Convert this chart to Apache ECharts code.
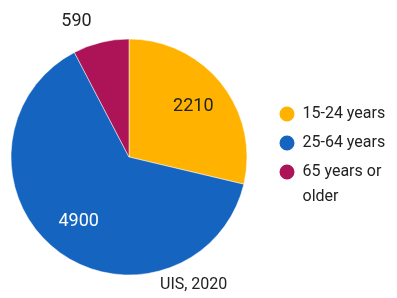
<!DOCTYPE html>
<html>
<head>
    <meta charset="utf-8">
    <title>ECharts</title>
    <script src="https://cdn.jsdelivr.net/npm/echarts@6/dist/echarts.min.js"></script>
    <style>
        html, body { margin: 0; padding: 0; background: #fff; }
        #main { width: 397px; height: 298px; }
    </style>
</head>
<body>
    <div id="main"></div>
    <script type="text/javascript">
        // data
        var categories = ['15-24 years', '25-64 years', '65 years or older'];
        var values = [2210, 4900, 590];
        var colors = ['#FFB300', '#1565C0', '#AD1457'];
        var labelColors = ['#222', '#fff', '#222'];
        var source = 'UIS, 2020';

        var font = 'Roboto, "Noto Sans", sans-serif';
        var center = [129, 157];

        var pieData = categories.map(function (name, i) {
            return { name: name, value: values[i], itemStyle: { color: colors[i] } };
        });

        // transparent overlay only carries the labels (further out than 'inside' puts them)
        var labelData = categories.map(function (name, i) {
            var item = {
                name: name,
                value: values[i],
                itemStyle: { color: 'rgba(0,0,0,0)' },
                label: { color: labelColors[i] }
            };
            if (values[i] < 1000) {
                item.label.position = 'outside';
            }
            return item;
        });

        // every legend text box is 3 lines tall so the wrapped one keeps its icon on line 1
        var legendData = categories.map(function (name, i) {
            if (i == 2) {
                return { name: name, textStyle: { padding: [0, 0, 0, 2] } };
            }
            return { name: name, textStyle: { padding: [25, 0, 25, 2] } };
        });

        var myChart = echarts.init(document.getElementById('main'));
        var option = {
            animation: false,
            title: {
                text: source,
                left: 160,
                top: 277,
                padding: 0,
                textStyle: { fontFamily: font, fontSize: 16, fontWeight: 'normal', color: '#222' }
            },
            legend: {
                orient: 'vertical',
                left: 277.5,
                top: 76.5,
                padding: 0,
                itemGap: -46,
                itemWidth: 17,
                itemHeight: 17,
                icon: 'circle',
                data: legendData,
                formatter: function (name) {
                    return name == '65 years or older' ? '\n65 years or\nolder' : name;
                },
                textStyle: { fontFamily: font, fontSize: 16, color: '#222', lineHeight: 25 }
            },
            series: [
                {
                    name: 'pop',
                    type: 'pie',
                    radius: [0, 118],
                    center: center,
                    startAngle: 90,
                    clockwise: true,
                    silent: true,
                    label: { show: false },
                    labelLine: { show: false },
                    itemStyle: { borderColor: '#fff', borderWidth: 0.5 },
                    data: pieData
                },
                {
                    name: 'labels',
                    type: 'pie',
                    radius: [40, 118],
                    center: center,
                    startAngle: 90,
                    clockwise: true,
                    silent: true,
                    avoidLabelOverlap: false,
                    label: {
                        show: true,
                        position: 'inside',
                        formatter: '{c}',
                        fontFamily: font,
                        fontSize: 18,
                        distanceToLabelLine: 0
                    },
                    labelLine: { show: false, length: 22, length2: 4 },
                    data: labelData
                }
            ]
        };
        myChart.setOption(option);
    </script>
</body>
</html>
